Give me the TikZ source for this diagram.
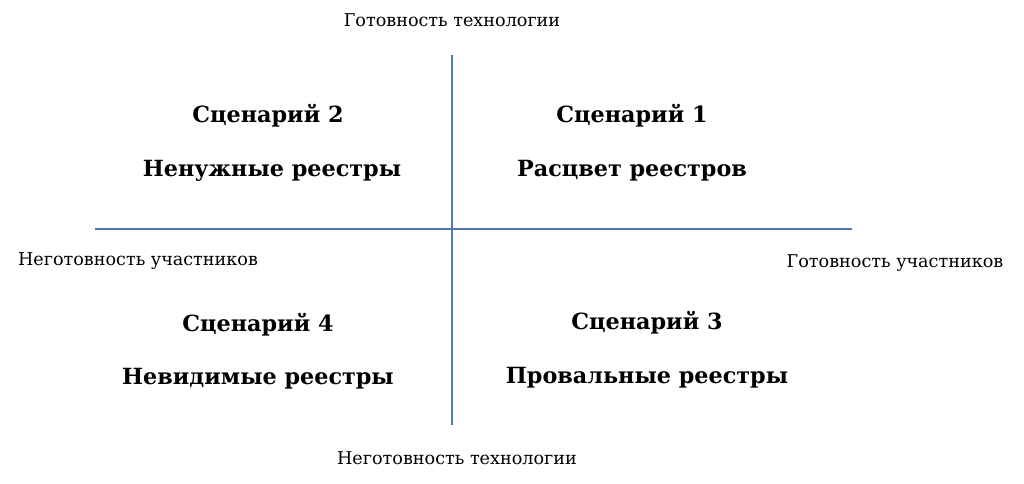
\documentclass[tikz,border=0pt]{standalone}
\usepackage{fontspec}
\setmainfont{DejaVu Serif}
\definecolor{axis}{RGB}{79,119,180}
\begin{document}
\begin{tikzpicture}[x=1pt,y=-1pt,
  lbl/.style={font=\fontsize{17.6}{20}\selectfont, inner sep=0pt},
  head/.style={font=\fontsize{22.3}{26}\selectfont\bfseries, inner sep=0pt},
  ax/.style={draw=axis, line width=1.3pt}]
\useasboundingbox (0,0) rectangle (1024,483);
\coordinate (vt) at (452,55);
\coordinate (vb) at (452,425);
\coordinate (hl) at (95,229);
\coordinate (hr) at (852,229);
\draw[ax] (vt) -- (vb);
\draw[ax] (hl) -- (hr);
\node[lbl] (top) at (452,20) {Готовность технологии};
\node[lbl] (bot) at (457,458) {Неготовность технологии};
\node[lbl] (left) at (138,261) {Неготовность участников};
\node[lbl] (right) at (895,263) {Готовность участников};
\node[head] (s2) at (268,116) {Сценарий 2};
\node[head] (n2) at (272,171) {Ненужные реестры};
\node[head] (s1) at (632,116) {Сценарий 1};
\node[head] (n1) at (632,171) {Расцвет реестров};
\node[head] (s4) at (258,325) {Сценарий 4};
\node[head] (n4) at (258,379) {Невидимые реестры};
\node[head] (s3) at (647,323) {Сценарий 3};
\node[head] (n3) at (647,378) {Провальные реестры};
\end{tikzpicture}
\end{document}
